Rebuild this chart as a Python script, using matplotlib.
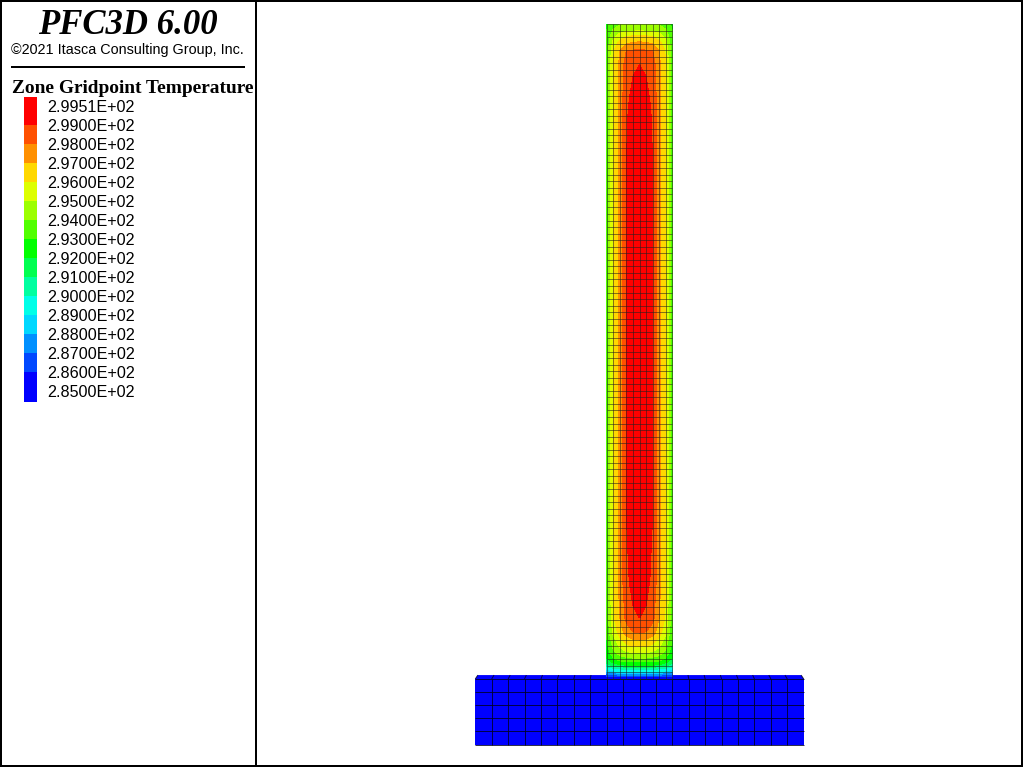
import numpy as np
import matplotlib
matplotlib.use("Agg")
import matplotlib.pyplot as plt
from matplotlib.collections import LineCollection
from matplotlib.patches import Polygon, Rectangle

title = "PFC3D 6.00"
copyright_text = "\u00a92021 Itasca Consulting Group, Inc."
legend_title = "Zone Gridpoint Temperature"
legend_labels = ["2.9951E+02", "2.9900E+02", "2.9800E+02", "2.9700E+02", "2.9600E+02", "2.9500E+02",
                 "2.9400E+02", "2.9300E+02", "2.9200E+02", "2.9100E+02", "2.9000E+02", "2.8900E+02",
                 "2.8800E+02", "2.8700E+02", "2.8600E+02", "2.8500E+02"]
levels = [285, 286, 287, 288, 289, 290, 291, 292, 293, 294, 295, 296, 297, 298, 299, 299.51]
band_colors = ["#0000ff", "#0048ff", "#0090ff", "#00d8ff", "#00ffe8", "#00ffa0", "#00ff50", "#00ff00",
               "#50ff00", "#9cff00", "#ddff00", "#ffd800", "#ff9000", "#ff5000", "#ff0000"]

# gridpoint temperatures
heights = [0, 0.35, 0.6, 0.9, 1.1, 1.5, 1.8, 2.1, 2.6, 3.2, 4, 4.9, 5.95, 7, 9.3, 15, 25, 50, 75,
           85, 88.4, 93.8, 96, 97.3, 98.3, 99, 100]
offsets = [0, 1, 2, 3, 4, 5]
temps = [
    [285.2, 285.2, 285.2, 285.2, 285.2, 285.2],
    [286.0, 286.0, 286.0, 286.0, 286.0, 285.8],
    [287.0, 287.0, 287.0, 287.0, 286.9, 286.5],
    [288.0, 288.0, 288.0, 288.0, 287.9, 287.3],
    [289.0, 289.0, 289.0, 288.9, 288.7, 288.0],
    [290.0, 290.0, 290.0, 289.9, 289.6, 289.0],
    [291.0, 291.0, 291.0, 290.8, 290.5, 289.8],
    [292.0, 292.0, 292.0, 291.8, 291.3, 290.5],
    [293.0, 293.0, 293.0, 292.8, 292.2, 291.3],
    [294.0, 294.0, 293.9, 293.6, 293.0, 292.0],
    [295.0, 295.0, 294.8, 294.4, 293.7, 292.3],
    [296.0, 296.0, 295.7, 295.1, 294.2, 292.6],
    [297.0, 296.9, 296.5, 295.7, 294.6, 292.9],
    [298.0, 297.9, 297.4, 296.4, 295.2, 293.1],
    [299.0, 298.9, 298.3, 297.0, 295.8, 293.3],
    [299.3, 299.2, 298.85, 297.3, 296.0, 293.3],
    [299.45, 299.4, 299.0, 297.3, 296.0, 293.3],
    [299.51, 299.45, 299.0, 297.2, 296.0, 293.3],
    [299.45, 299.4, 299.0, 297.3, 296.0, 293.3],
    [299.4, 299.3, 298.95, 297.3, 296.0, 293.3],
    [299.3, 299.2, 298.85, 297.3, 296.0, 293.3],
    [299.0, 298.9, 298.5, 297.2, 296.0, 293.3],
    [298.1, 298.0, 298.0, 297.0, 295.8, 293.3],
    [297.0, 296.9, 296.7, 296.2, 295.2, 293.2],
    [296.0, 295.9, 295.8, 295.3, 294.6, 293.1],
    [294.9, 294.9, 294.8, 294.6, 294.1, 293.0],
    [294.2, 294.2, 294.1, 293.9, 293.5, 292.8],
]
column_cells = (10, 100)
base_cells = (20, 5)
base_half_width = 25
base_depth = 10
strip_height = 0.6
strip_inset = 0.4

fig = plt.figure(figsize=(10.24, 7.68), dpi=100, facecolor="white")
fig_ax = fig.add_axes([0, 0, 1, 1])
fig_ax.set_xlim(0, 1024)
fig_ax.set_ylim(768, 0)
fig_ax.axis("off")

# model axes: 1 unit = 6.57 px horizontally, 6.55 px vertically
sx, sy = 6.57, 6.55
cx, y0 = 639.5, 679.0
ax = fig.add_axes([0, 0, 1, 1], facecolor="none")
ax.set_xlim(-cx / sx, (1024 - cx) / sx)
ax.set_ylim((y0 - 768) / sy, y0 / sy)
ax.axis("off")

# base block
base_color = band_colors[0]
ratio = (base_half_width - strip_inset) / base_half_width
ax.add_patch(Rectangle((-base_half_width, -base_depth), 2 * base_half_width, base_depth,
                       facecolor=base_color, edgecolor="none", zorder=1))
ax.add_patch(Polygon([(-base_half_width, 0), (base_half_width, 0),
                      (base_half_width * ratio, strip_height), (-base_half_width * ratio, strip_height)],
                     facecolor=base_color, edgecolor="none", zorder=1))
xs = np.linspace(-base_half_width, base_half_width, base_cells[0] + 1)
ys = np.linspace(-base_depth, 0, base_cells[1] + 1)
segs = [[(x, -base_depth), (x, 0)] for x in xs[1:-1]] + [[(-base_half_width, y), (base_half_width, y)] for y in ys]
segs += [[(x, 0), (x * ratio, strip_height)] for x in xs]
ax.add_collection(LineCollection(segs, colors="#000020", linewidths=0.72, alpha=0.8, zorder=2))

# column
off = np.array(offsets, float)
X = np.concatenate([-off[:0:-1], off])
T = np.array(temps)
Z = np.hstack([T[:, :0:-1], T])
ax.contourf(X, heights, np.clip(Z, 285.01, 299.5), levels=levels, colors=band_colors,
            antialiased=False, zorder=3)
gx = np.linspace(-5, 5, column_cells[0] + 1)
gy = np.linspace(0, 100, column_cells[1] + 1)
segs = [[(x, 0), (x, 100)] for x in gx] + [[(-5, y), (5, y)] for y in gy]
ax.add_collection(LineCollection(segs, colors="#202020", linewidths=0.72, alpha=0.55, zorder=4))

# panel frame
for seg in ([(1, 0), (1, 767)], [(1022, 0), (1022, 767)], [(0, 1), (1023, 1)], [(0, 766), (1023, 766)],
            [(256, 0), (256, 767)], [(11, 67), (245, 67)]):
    fig_ax.plot(*zip(*seg), color="black", lw=1.44, solid_capstyle="butt", zorder=6)

fig_ax.text(128, 34, title, family="Liberation Serif", style="italic", weight="bold", fontsize=25,
            ha="center", va="baseline")
fig_ax.text(127.5, 54, copyright_text, family="Liberation Sans", fontsize=10.4, ha="center", va="baseline")
fig_ax.text(12, 93, legend_title, family="Liberation Serif", weight="bold", fontsize=13.95, ha="left", va="baseline")

# legend
row = 19.0
ly = 107.0
for i, lab in enumerate(legend_labels):
    fig_ax.text(47.5, ly + 5 + i * row, lab, family="Liberation Sans", fontsize=11.6, ha="left", va="baseline")
for i, c in enumerate(band_colors[::-1]):
    top = 97 if i == 0 else 106 + i * row
    bot = 106 + (i + 1) * row
    if i == len(band_colors) - 1:
        bot = 402
    fig_ax.add_patch(Rectangle((24, top), 13, bot - top, facecolor=c, edgecolor="none", zorder=3))

fig.savefig("out.png", dpi=100)
